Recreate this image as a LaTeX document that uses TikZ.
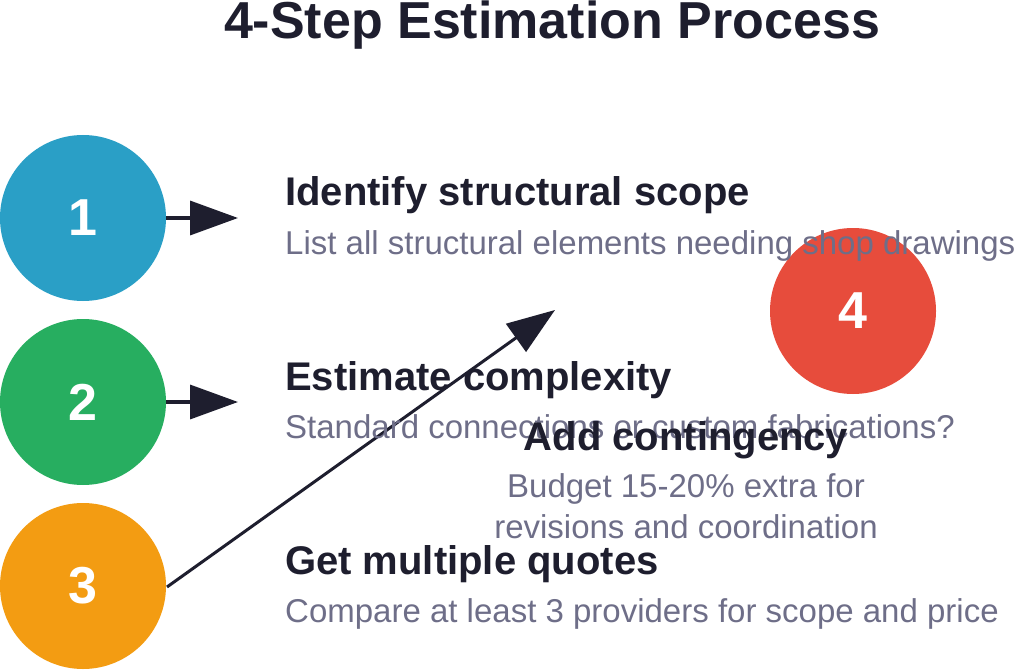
\documentclass[tikz,border=0pt]{standalone}
\usepackage{fontspec}
\setmainfont{Liberation Sans}
\usetikzlibrary{arrows.meta}
\definecolor{cA}{HTML}{2A9FC6}
\definecolor{cB}{HTML}{27AE60}
\definecolor{cC}{HTML}{F39C12}
\definecolor{cD}{HTML}{E74C3C}
\definecolor{dark}{HTML}{1E1E2E}
\definecolor{sub}{HTML}{6E6E88}
\begin{document}
\begin{tikzpicture}[x=1pt,y=-1pt,
  num/.style={circle,minimum size=166pt,inner sep=0,text=white,font=\fontsize{52}{56}\selectfont\bfseries},
  ttl/.style={anchor=base west,inner sep=0,text=dark,font=\fontsize{40}{44}\selectfont\bfseries},
  desc/.style={anchor=base west,inner sep=0,text=sub,font=\fontsize{33}{38}\selectfont},
  arr/.style={-{Triangle[length=48pt,width=34pt]},line width=3.5pt,draw=dark}]
\clip (0,0) rectangle (1024,671);
\useasboundingbox (0,0) rectangle (1024,671);
\node[inner sep=0,anchor=base,text=dark,font=\fontsize{52}{58}\selectfont\bfseries] (title) at (552,39) {4-Step Estimation Process};
\node[num,fill=cA] (n1) at (83,218) {1};
\node[num,fill=cB] (n2) at (83,402) {2};
\node[num,fill=cC] (n3) at (83,586) {3};
\node[num,fill=cD] (n4) at (853,311) {4};
\coordinate (e1) at (238,218);
\coordinate (e2) at (238,402);
\coordinate (e3) at (555,310);
\draw[arr] (n1.east) -- (e1);
\draw[arr] (n2.east) -- (e2);
\draw[arr,line width=3pt] (167,587) -- (e3);
\node[ttl] (t1) at (285,205) {Identify structural scope};
\node[desc] (d1) at (285,254) {List all structural elements needing shop drawings};
\node[ttl] (t2) at (285,390) {Estimate complexity};
\node[desc] (d2) at (285,438) {Standard connections or custom fabrications?};
\node[ttl] (t3) at (285,574) {Get multiple quotes};
\node[desc] (d3) at (285,622) {Compare at least 3 providers for scope and price};
\node[inner sep=0,anchor=base,text=dark,font=\fontsize{40}{44}\selectfont\bfseries] (t4) at (686,450) {Add contingency};
\node[inner sep=0,anchor=base,text=sub,font=\fontsize{33}{38}\selectfont] (d4) at (686,497) {Budget 15-20\% extra for};
\node[inner sep=0,anchor=base,text=sub,font=\fontsize{33}{38}\selectfont] (d4b) at (686,538) {revisions and coordination};
\end{tikzpicture}
\end{document}
